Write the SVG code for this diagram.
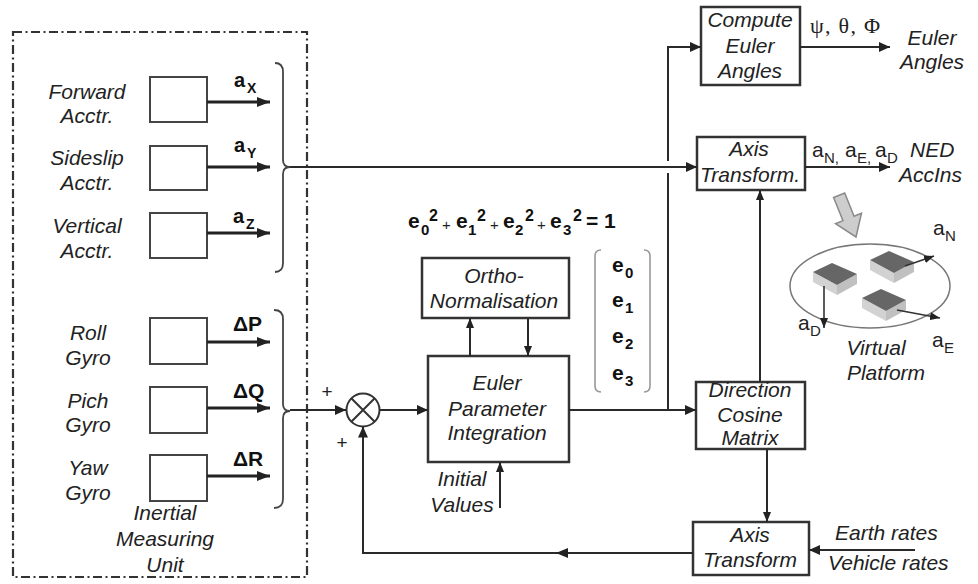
<svg xmlns="http://www.w3.org/2000/svg" width="978" height="584" viewBox="0 0 978 584">
  <style>
    .lbl { font-family: "Liberation Sans", Arial, sans-serif; font-style: italic; font-size: 21px; fill: #222; }
    .mid { text-anchor: middle; }
    .box { fill: #fff; stroke: #333; stroke-width: 2.5; }
    .sbox { fill: #fff; stroke: #444; stroke-width: 2; }
    .wire { fill: none; stroke: #2a2a2a; stroke-width: 2; }
    .heavy { fill: none; stroke: #222; stroke-width: 3.2; }
    .brace { fill: none; stroke: #444; stroke-width: 1.8; }
    .bold { font-family: "Liberation Sans", Arial, sans-serif; font-weight: bold; fill: #111; }
    .reg { font-family: "Liberation Sans", Arial, sans-serif; fill: #222; }
    .sym { font-family: "Liberation Serif", "Times New Roman", serif; font-size: 22px; fill: #222; }
  </style>
  <defs>
    <marker id="arr" markerUnits="userSpaceOnUse" markerWidth="11" markerHeight="10" refX="11" refY="5" orient="auto">
      <path d="M0,0 L11,5 L0,10 z" fill="#222"/>
    </marker>
    <marker id="arrBig" markerUnits="userSpaceOnUse" markerWidth="13" markerHeight="10" refX="13" refY="5" orient="auto">
      <path d="M0,0 L13,5 L0,10 z" fill="#222"/>
    </marker>
    <marker id="arrSm" markerUnits="userSpaceOnUse" markerWidth="10" markerHeight="8" refX="10" refY="4" orient="auto">
      <path d="M0,0 L10,4 L0,8 z" fill="#222"/>
    </marker>
    <!-- small sensor block for the virtual platform -->
    <g id="block">
      <path d="M0,9 L24,22 L24,32 L0,19 z" fill="#d2d2d2"/>
      <path d="M24,22 L44,11 L44,21 L24,32 z" fill="#c0c0c0"/>
      <path d="M0,9 L19,0 L44,11 L24,22 z" fill="#666"/>
    </g>
  </defs>

  <rect width="978" height="584" fill="#fff"/>

  <!-- Inertial Measuring Unit -->
  <g id="imu">
    <rect x="13" y="32" width="294" height="545" fill="none" stroke="#333" stroke-width="2.2" stroke-dasharray="9 3.5 2 3.5"/>
    <text class="lbl mid" x="165"><tspan x="165" y="520">Inertial</tspan><tspan x="165" y="546">Measuring</tspan><tspan x="165" y="572">Unit</tspan></text>
  </g>

  <g id="fwd-acc">
    <rect class="sbox" x="150" y="77" width="57" height="45"/>
    <text class="lbl mid"><tspan x="87" y="99">Forward</tspan><tspan x="87" y="123">Acctr.</tspan></text>
  </g>
  <g id="side-acc">
    <rect class="sbox" x="150" y="146" width="57" height="44"/>
    <text class="lbl mid"><tspan x="87" y="165">Sideslip</tspan><tspan x="87" y="190">Acctr.</tspan></text>
  </g>
  <g id="vert-acc">
    <rect class="sbox" x="150" y="213" width="57" height="45"/>
    <text class="lbl mid"><tspan x="87" y="233">Vertical</tspan><tspan x="87" y="258">Acctr.</tspan></text>
  </g>
  <g id="roll-gyro">
    <rect class="sbox" x="150" y="318" width="57" height="46"/>
    <text class="lbl mid"><tspan x="88" y="340">Roll</tspan><tspan x="88" y="365">Gyro</tspan></text>
  </g>
  <g id="pitch-gyro">
    <rect class="sbox" x="150" y="387" width="57" height="46"/>
    <text class="lbl mid"><tspan x="88" y="408">Pich</tspan><tspan x="88" y="432">Gyro</tspan></text>
  </g>
  <g id="yaw-gyro">
    <rect class="sbox" x="150" y="455" width="57" height="46"/>
    <text class="lbl mid"><tspan x="88" y="475">Yaw</tspan><tspan x="88" y="500">Gyro</tspan></text>
  </g>

  <!-- sum junction -->
  <g id="sum">
    <circle cx="363" cy="410" r="16.5" fill="#fff" stroke="#333" stroke-width="2"/>
    <path d="M351.3,398.3 L374.7,421.7 M374.7,398.3 L351.3,421.7" stroke="#333" stroke-width="2"/>
    <text class="reg" x="327" y="398" font-size="19" text-anchor="middle" fill="#222">+</text>
    <text class="reg" x="342" y="449" font-size="19" text-anchor="middle" fill="#222">+</text>
  </g>

  <g id="euler-param">
    <rect class="box" x="428" y="356" width="141" height="106"/>
    <text class="lbl mid"><tspan x="497" y="390">Euler</tspan><tspan x="497" y="416">Parameter</tspan><tspan x="497" y="440">Integration</tspan></text>
    <text class="lbl mid"><tspan x="462" y="486">Initial</tspan><tspan x="462" y="512">Values</tspan></text>
  </g>

  <g id="ortho">
    <rect class="box" x="422" y="258" width="147" height="60"/>
    <text class="lbl mid"><tspan x="494" y="283">Ortho-</tspan><tspan x="494" y="308">Normalisation</tspan></text>
  </g>

  <!-- unit-norm constraint -->
  <g id="constraint">
    <text class="bold" font-size="21">
      <tspan x="408" y="228">e</tspan><tspan x="421" y="235" font-size="15">0</tspan><tspan x="429" y="221" font-size="16">2</tspan>
      <tspan x="456" y="228">e</tspan><tspan x="468" y="235" font-size="15">1</tspan><tspan x="477" y="221" font-size="16">2</tspan>
      <tspan x="503" y="228">e</tspan><tspan x="515" y="235" font-size="15">2</tspan><tspan x="525" y="221" font-size="16">2</tspan>
      <tspan x="550" y="228">e</tspan><tspan x="563" y="235" font-size="15">3</tspan><tspan x="573" y="221" font-size="16">2</tspan>
      <tspan x="586" y="228">= 1</tspan>
    </text>
    <text class="reg" font-size="15">
      <tspan x="442" y="230">+</tspan><tspan x="490" y="230">+</tspan><tspan x="537" y="230">+</tspan>
    </text>
  </g>

  <!-- quaternion vector -->
  <g id="e-vector">
    <path d="M601,250 Q595,250 595,256 L595,386 Q595,392 601,392" fill="none" stroke="#999" stroke-width="1.6"/>
    <path d="M644,250 Q650,250 650,256 L650,386 Q650,392 644,392" fill="none" stroke="#999" stroke-width="1.6"/>
    <text class="bold" font-size="21">
      <tspan x="612" y="272">e</tspan><tspan x="625" y="278" font-size="15">0</tspan>
      <tspan x="612" y="307">e</tspan><tspan x="625" y="313" font-size="15">1</tspan>
      <tspan x="612" y="343">e</tspan><tspan x="625" y="349" font-size="15">2</tspan>
      <tspan x="612" y="380">e</tspan><tspan x="625" y="386" font-size="15">3</tspan>
    </text>
  </g>

  <g id="compute-euler">
    <rect class="box" x="701" y="7" width="99" height="78"/>
    <text class="lbl mid"><tspan x="750" y="27">Compute</tspan><tspan x="750" y="53">Euler</tspan><tspan x="750" y="78">Angles</tspan></text>
    <text class="sym" x="810" y="33" textLength="70">ψ, θ, Φ</text>
    <text class="lbl mid"><tspan x="932" y="45">Euler</tspan><tspan x="932" y="69">Angles</tspan></text>
  </g>

  <g id="axis-top">
    <rect class="box" x="697" y="137" width="108" height="53"/>
    <text class="lbl mid"><tspan x="749" y="156">Axis</tspan><tspan x="750" y="182">Transform.</tspan></text>
    <text class="reg" font-size="21">
      <tspan x="812" y="157">a</tspan><tspan x="824" y="163" font-size="15">N,</tspan>
      <tspan x="845" y="157">a</tspan><tspan x="857" y="163" font-size="15">E,</tspan>
      <tspan x="875" y="157">a</tspan><tspan x="887" y="163" font-size="15">D</tspan>
    </text>
    <text class="lbl"><tspan x="910" y="157">NED</tspan><tspan x="899" y="182">AccIns</tspan></text>
  </g>

  <g id="dcm">
    <rect class="box" x="696" y="382" width="109" height="67"/>
    <text class="lbl mid"><tspan x="750" y="397">Direction</tspan><tspan x="750" y="422">Cosine</tspan><tspan x="750" y="445">Matrix</tspan></text>
  </g>

  <g id="axis-bottom">
    <rect class="box" x="693" y="522" width="116" height="53"/>
    <text class="lbl mid"><tspan x="750" y="542">Axis</tspan><tspan x="750" y="567">Transform</tspan></text>
    <text class="lbl"><tspan x="835" y="540">Earth rates</tspan><tspan x="828" y="570">Vehicle rates</tspan></text>
  </g>

  <!-- virtual platform -->
  <g id="virtual-platform">
    <path d="M-6,-45 L6,-45 L6,-20 L14,-20 L0,0 L-14,-20 L-6,-20 z" transform="translate(856,237) rotate(-22)" fill="#cdcdcd" stroke="#8a8a8a" stroke-width="1.5"/>
    <ellipse cx="870" cy="286" rx="80" ry="42" fill="#fff" stroke="#777" stroke-width="1.5"/>
    <use href="#block" x="813" y="263"/>
    <use href="#block" x="870" y="251"/>
    <use href="#block" x="862" y="289"/>
    <line x1="905" y1="266" x2="934" y2="256" stroke="#333" stroke-width="1.6" marker-end="url(#arrSm)"/>
    <line x1="897" y1="310" x2="940" y2="318" stroke="#333" stroke-width="1.6" marker-end="url(#arrSm)"/>
    <line x1="824" y1="286" x2="824" y2="328" stroke="#333" stroke-width="1.6" marker-end="url(#arrSm)"/>
    <text class="reg" font-size="21"><tspan x="933" y="235">a</tspan><tspan x="945" y="241" font-size="15">N</tspan></text>
    <text class="reg" font-size="21"><tspan x="932" y="347">a</tspan><tspan x="944" y="353" font-size="15">E</tspan></text>
    <text class="reg" font-size="21"><tspan x="798" y="330">a</tspan><tspan x="810" y="336" font-size="15">D</tspan></text>
    <text class="lbl mid"><tspan x="876" y="355">Virtual</tspan><tspan x="886" y="380">Platform</tspan></text>
  </g>

  <!-- connectors -->
  <g id="connectors">
    <!-- sensor outputs -->
    <line class="heavy" x1="207" y1="102" x2="270" y2="102" marker-end="url(#arrBig)"/>
    <line class="heavy" x1="207" y1="167" x2="270" y2="167" marker-end="url(#arrBig)"/>
    <line class="heavy" x1="207" y1="233" x2="270" y2="233" marker-end="url(#arrBig)"/>
    <line class="heavy" x1="207" y1="342" x2="270" y2="342" marker-end="url(#arrBig)"/>
    <line class="heavy" x1="207" y1="408" x2="270" y2="408" marker-end="url(#arrBig)"/>
    <line class="heavy" x1="207" y1="476" x2="270" y2="476" marker-end="url(#arrBig)"/>
    <text class="bold" font-size="20"><tspan x="234" y="87">a</tspan><tspan x="247" y="93" font-size="14">X</tspan></text>
    <text class="bold" font-size="20"><tspan x="234" y="152">a</tspan><tspan x="247" y="158" font-size="14">Y</tspan></text>
    <text class="bold" font-size="20"><tspan x="233" y="223">a</tspan><tspan x="246" y="229" font-size="14">Z</tspan></text>
    <text class="bold" font-size="21" x="233" y="331">ΔP</text>
    <text class="bold" font-size="21" x="233" y="398">ΔQ</text>
    <text class="bold" font-size="21" x="233" y="466">ΔR</text>
    <!-- braces -->
    <path class="brace" d="M275,63 Q283,63 283,72 L283,160 Q283,167 290,167 Q283,167 283,174 L283,263 Q283,272 275,272"/>
    <path class="brace" d="M274,310 Q283,310 283,319 L283,404 Q283,411 290,411 Q283,411 283,418 L283,499 Q283,508 274,508"/>
    <!-- accelerations to axis transform -->
    <line class="wire" x1="290" y1="167" x2="697" y2="167" marker-end="url(#arr)"/>
    <!-- rates to sum -->
    <line class="wire" x1="290" y1="410" x2="346" y2="410" marker-end="url(#arr)"/>
    <line class="wire" x1="379.5" y1="410" x2="428" y2="410" marker-end="url(#arr)"/>
    <!-- ortho-normalisation loop -->
    <line class="wire" x1="470" y1="356" x2="470" y2="318" marker-end="url(#arrSm)"/>
    <line class="wire" x1="528" y1="318" x2="528" y2="356" marker-end="url(#arrSm)"/>
    <!-- initial values -->
    <line class="wire" x1="500" y1="508" x2="500" y2="462" marker-end="url(#arrSm)"/>
    <!-- integrator to DCM and Euler angles -->
    <line class="wire" x1="569" y1="410" x2="696" y2="410" marker-end="url(#arr)"/>
    <path class="wire" d="M668,410 L668,173 M668,161 L668,47 L701,47" marker-end="url(#arr)"/>
    <line class="wire" x1="800" y1="47" x2="890" y2="47" marker-end="url(#arr)"/>
    <line class="wire" x1="805" y1="167" x2="890" y2="167" marker-end="url(#arr)"/>
    <!-- DCM to transforms -->
    <line class="wire" x1="760" y1="382" x2="760" y2="190" marker-end="url(#arrSm)"/>
    <line class="wire" x1="767" y1="449" x2="767" y2="522" marker-end="url(#arrSm)"/>
    <!-- earth / vehicle rates -->
    <line class="wire" x1="915" y1="550" x2="809" y2="550" marker-end="url(#arr)"/>
    <!-- feedback to sum -->
    <path class="wire" d="M693,553 L363,553 L363,426.5" marker-end="url(#arr)"/>
    <path d="M568,548 L556,553 L568,558 z" fill="#222"/>
  </g>
</svg>
